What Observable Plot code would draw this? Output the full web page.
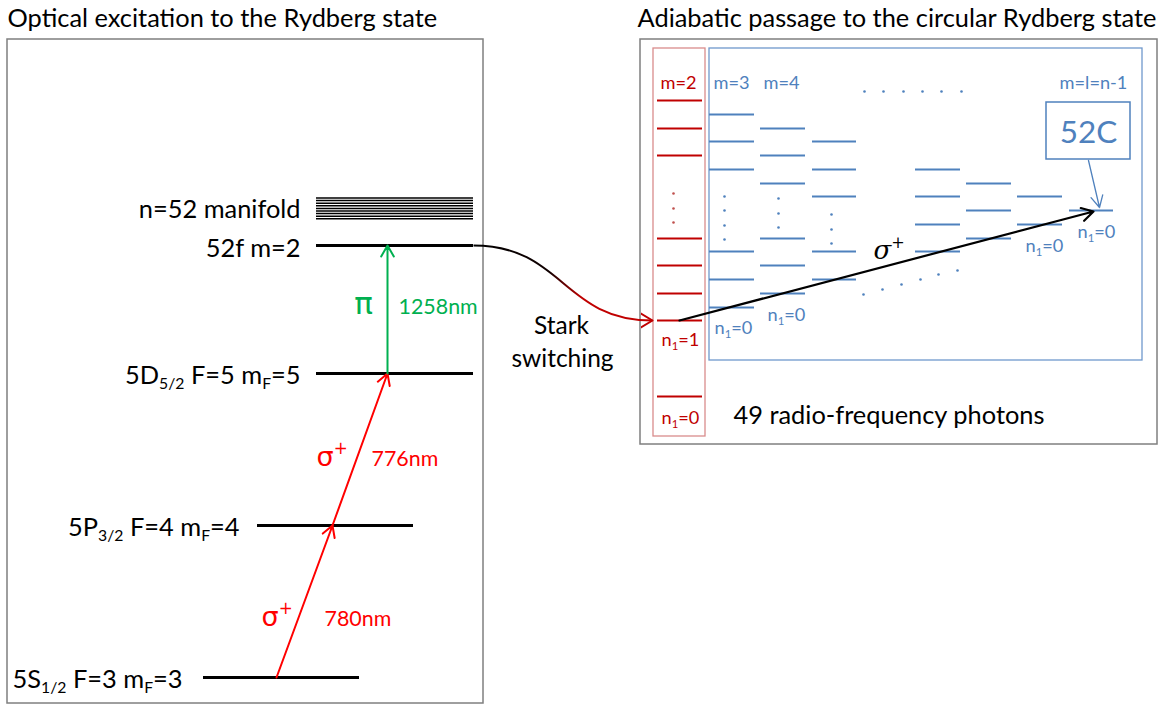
<!DOCTYPE html>
<html><head><meta charset="utf-8">
<script src="https://cdn.jsdelivr.net/npm/d3@7"></script>
<script src="https://cdn.jsdelivr.net/npm/@observablehq/plot@0.6"></script>
<style>body{margin:0;background:#fff} svg{display:block}</style>
</head><body><div id="chart"></div>
<script>
// ---------- data (diagram coordinates) ----------
const panelTitles = [
  {text: "Optical excitation to the Rydberg state", x: 7, y: 26},
  {text: "Adiabatic passage to the circular Rydberg state", x: 637, y: 26}
];
const panelFrames = [
  {x1: 7, x2: 483, y1: 39, y2: 703},
  {x1: 640, x2: 1157, y1: 39, y2: 444}
];
// left panel: optical ladder
const opticalLevels = [
  {state: "5S", x1: 203, x2: 359, y: 677},
  {state: "5P", x1: 257, x2: 413, y: 525},
  {state: "5D", x1: 316, x2: 473, y: 373},
  {state: "52f", x1: 316, x2: 473, y: 245}
];
const manifoldLevels = [
  {x1: 316, x2: 473, y: 197.5}, {x1: 316, x2: 473, y: 200.1}, {x1: 316, x2: 473, y: 202.7},
  {x1: 316, x2: 473, y: 205.3}, {x1: 316, x2: 473, y: 207.9}, {x1: 316, x2: 473, y: 210.5},
  {x1: 316, x2: 473, y: 213.1}, {x1: 316, x2: 473, y: 215.7}, {x1: 316, x2: 473, y: 218.3}
];
const levelLabels = [
  {text: "5S_{1/2} F=3 m_{F}=3", x: 182, y: 687},
  {text: "5P_{3/2} F=4 m_{F}=4", x: 239, y: 535},
  {text: "5D_{5/2} F=5 m_{F}=5", x: 300, y: 383},
  {text: "52f m=2", x: 300, y: 256},
  {text: "n=52 manifold", x: 300, y: 217}
];
const laserSteps = [
  {x1: 276, y1: 677, x2: 332, y2: 525},
  {x1: 332, y1: 525, x2: 387, y2: 373}
];
const rydbergStep = [{x1: 387, y1: 373, x2: 387, y2: 245}];
const polarizationLabels = [
  {text: "σ^{+}", x: 261, y: 625},
  {text: "σ^{+}", x: 316, y: 465}
];
const wavelengthLabels = [
  {text: "780nm", x: 324, y: 625},
  {text: "776nm", x: 371, y: 465}
];
const piLabel = [{text: "π", x: 363, y: 313}];
const rydbergWavelength = [{text: "1258nm", x: 398, y: 313}];

// right panel
const innerFrameRed = [{x1: 653, x2: 705, y1: 48, y2: 436}];
const innerFrameBlue = [{x1: 709, x2: 1142, y1: 48, y2: 360}];
const starkLevels = [
  {x1: 657, x2: 702, y: 100}, {x1: 657, x2: 702, y: 128}, {x1: 657, x2: 702, y: 155},
  {x1: 657, x2: 702, y: 238}, {x1: 657, x2: 702, y: 265}, {x1: 657, x2: 702, y: 293},
  {x1: 657, x2: 702, y: 320}, {x1: 657, x2: 702, y: 396}
];
const starkDots = [{x: 673, y: 193}, {x: 673, y: 208}, {x: 673, y: 222}];
const circularLevels = [
  // m=3
  {x1: 709, x2: 754, y: 114}, {x1: 709, x2: 754, y: 141}, {x1: 709, x2: 754, y: 169},
  {x1: 709, x2: 754, y: 251}, {x1: 709, x2: 754, y: 279}, {x1: 709, x2: 754, y: 307},
  // m=4
  {x1: 760, x2: 805, y: 128}, {x1: 760, x2: 805, y: 155}, {x1: 760, x2: 805, y: 183},
  {x1: 760, x2: 805, y: 238}, {x1: 760, x2: 805, y: 265}, {x1: 760, x2: 805, y: 293},
  // m=5
  {x1: 812, x2: 856, y: 141}, {x1: 812, x2: 856, y: 169}, {x1: 812, x2: 856, y: 196},
  {x1: 812, x2: 856, y: 251}, {x1: 812, x2: 856, y: 279},
  // m=n-4
  {x1: 915, x2: 960, y: 169}, {x1: 915, x2: 960, y: 196}, {x1: 915, x2: 960, y: 224},
  {x1: 915, x2: 960, y: 251},
  // m=n-3
  {x1: 966, x2: 1011, y: 183}, {x1: 966, x2: 1011, y: 210}, {x1: 966, x2: 1011, y: 238},
  // m=n-2
  {x1: 1017, x2: 1062, y: 196}, {x1: 1017, x2: 1062, y: 224},
  // m=n-1 (circular)
  {x1: 1069, x2: 1113, y: 210}
];
const circularDots = [
  {x: 724, y: 196}, {x: 724, y: 210}, {x: 724, y: 225}, {x: 724, y: 239},
  {x: 778, y: 198}, {x: 778, y: 213}, {x: 778, y: 227},
  {x: 831, y: 214}, {x: 831, y: 229}, {x: 831, y: 243},
  {x: 864, y: 91}, {x: 883, y: 91}, {x: 903, y: 91}, {x: 922, y: 91}, {x: 941, y: 91}, {x: 961, y: 91},
  {x: 863, y: 294}, {x: 882, y: 289}, {x: 901, y: 284}, {x: 920, y: 279}, {x: 938, y: 274}, {x: 957, y: 270}
];
const redLabels = [
  {text: "m=2", x: 678, y: 88},
  {text: "n_{1}=1", x: 680, y: 345},
  {text: "n_{1}=0", x: 680, y: 423}
];
const blueLabels = [
  {text: "m=3", x: 731, y: 88},
  {text: "m=4", x: 781, y: 88},
  {text: "m=l=n-1", x: 1093, y: 88},
  {text: "n_{1}=0", x: 733, y: 333},
  {text: "n_{1}=0", x: 786, y: 320},
  {text: "n_{1}=0", x: 1044, y: 251},
  {text: "n_{1}=0", x: 1096, y: 237}
];
const circularBox = [{x1: 1046, x2: 1130, y1: 102, y2: 159}];
const circularName = [{text: "52C", x: 1088, y: 142}];
const circularPointer = [{x1: 1088, y1: 160, x2: 1099, y2: 207}];
const rfLadder = [{x1: 679, y1: 320, x2: 1093, y2: 211}];
const rfPolarization = [{text: "σ^{+}", x: 873, y: 258}];
const starkSwitch = [{x1: 473, y1: 245, x2: 652, y2: 320}];
const starkText = [{text: "Stark", x: 561, y: 333}, {text: "switching", x: 562, y: 366}];
const photonText = [{text: "49 radio-frequency photons", x: 733, y: 423}];

// ---------- styles ----------
const FONT = "Lato, Carlito, 'Open Sans', 'DejaVu Sans', sans-serif";
const RED = "#ff0000", DARKRED = "#c00000", GREEN = "#00b050", BLUE = "#4f81bd";
const LINK = "#c00001";
const BIG = 25.4, MID = 21.4, SMALL = 18.2;

const chart = Plot.plot({
  width: 1164, height: 705, margin: 0,
  x: {domain: [0, 1164], range: [0, 1164], axis: null},
  y: {domain: [0, 705], range: [0, 705], axis: null},
  style: {background: "#fff"},
  marks: [
    Plot.rect(panelFrames, {x1: "x1", x2: "x2", y1: "y1", y2: "y2", fill: "none", stroke: "#7f7f7f", strokeWidth: 1.5}),
    Plot.text(panelTitles, {x: "x", y: "y", text: "text", textAnchor: "start", lineAnchor: "bottom", fontSize: BIG, fill: "#000", fontFamily: FONT}),
    // left panel
    Plot.ruleY(manifoldLevels, {y: "y", x1: "x1", x2: "x2", stroke: "#000", strokeWidth: 1.5}),
    Plot.ruleY(opticalLevels, {y: "y", x1: "x1", x2: "x2", stroke: "#000", strokeWidth: 3}),
    Plot.text(levelLabels, {x: "x", y: "y", text: "text", textAnchor: "end", lineAnchor: "bottom", fontSize: BIG, fill: "#000", fontFamily: FONT}),
    Plot.arrow(laserSteps, {x1: "x1", y1: "y1", x2: "x2", y2: "y2", stroke: RED, strokeWidth: 2, headLength: 9.5, headAngle: 60}),
    Plot.arrow(rydbergStep, {x1: "x1", y1: "y1", x2: "x2", y2: "y2", stroke: GREEN, strokeWidth: 2, headLength: 9.5, headAngle: 60}),
    Plot.text(polarizationLabels, {x: "x", y: "y", text: "text", textAnchor: "start", lineAnchor: "bottom", fontSize: 27, fill: RED, fontFamily: "'DejaVu Sans', sans-serif"}),
    Plot.text(wavelengthLabels, {x: "x", y: "y", text: "text", textAnchor: "start", lineAnchor: "bottom", fontSize: MID, fill: RED, fontFamily: FONT}),
    Plot.text(piLabel, {x: "x", y: "y", text: "text", textAnchor: "middle", lineAnchor: "bottom", fontSize: 31, fill: GREEN, fontFamily: "'DejaVu Sans', sans-serif"}),
    Plot.text(rydbergWavelength, {x: "x", y: "y", text: "text", textAnchor: "start", lineAnchor: "bottom", fontSize: MID, fill: GREEN, fontFamily: FONT}),
    // right panel
    Plot.rect(innerFrameRed, {x1: "x1", x2: "x2", y1: "y1", y2: "y2", fill: "none", stroke: "#d98c8c", strokeWidth: 1.3}),
    Plot.rect(innerFrameBlue, {x1: "x1", x2: "x2", y1: "y1", y2: "y2", fill: "none", stroke: "#6f98cc", strokeWidth: 1.3}),
    Plot.ruleY(starkLevels, {y: "y", x1: "x1", x2: "x2", stroke: DARKRED, strokeWidth: 2}),
    Plot.dot(starkDots, {x: "x", y: "y", r: 1.3, fill: "#c0504d", stroke: "none"}),
    Plot.ruleY(circularLevels, {y: "y", x1: "x1", x2: "x2", stroke: BLUE, strokeWidth: 2}),
    Plot.dot(circularDots, {x: "x", y: "y", r: 1.3, fill: BLUE, stroke: "none"}),
    Plot.text(redLabels, {x: "x", y: "y", text: "text", textAnchor: "middle", lineAnchor: "bottom", fontSize: SMALL, fill: DARKRED, fontFamily: FONT}),
    Plot.text(blueLabels, {x: "x", y: "y", text: "text", textAnchor: "middle", lineAnchor: "bottom", fontSize: SMALL, fill: BLUE, fontFamily: FONT}),
    Plot.rect(circularBox, {x1: "x1", x2: "x2", y1: "y1", y2: "y2", fill: "#fff", stroke: BLUE, strokeWidth: 1.5}),
    Plot.text(circularName, {x: "x", y: "y", text: "text", textAnchor: "middle", lineAnchor: "bottom", fontSize: 31.5, fill: BLUE, fontFamily: FONT}),
    Plot.arrow(circularPointer, {x1: "x1", y1: "y1", x2: "x2", y2: "y2", stroke: BLUE, strokeWidth: 1.3, headLength: 15, headAngle: 55}),
    Plot.arrow(rfLadder, {x1: "x1", y1: "y1", x2: "x2", y2: "y2", stroke: "#000", strokeWidth: 2.2, headLength: 9, headAngle: 60}),
    Plot.text(rfPolarization, {x: "x", y: "y", text: "text", textAnchor: "start", lineAnchor: "bottom", fontSize: 26, fontStyle: "italic", fill: "#000", fontFamily: "'DejaVu Serif', serif"}),
    Plot.link(starkSwitch, {x1: "x1", y1: "y1", x2: "x2", y2: "y2", curve: "bump-x", stroke: LINK, strokeWidth: 2, markerEnd: "arrow"}),
    Plot.text(starkText, {x: "x", y: "y", text: "text", textAnchor: "middle", lineAnchor: "bottom", fontSize: 24.5, fill: "#000", fontFamily: FONT}),
    Plot.text(photonText, {x: "x", y: "y", text: "text", textAnchor: "start", lineAnchor: "bottom", fontSize: BIG, fill: "#000", fontFamily: FONT})
  ]
});
document.getElementById("chart").appendChild(chart);

// ---------- sub/superscripts as tspans ----------
const NS = "http://www.w3.org/2000/svg";
chart.querySelectorAll("text").forEach(t => {
  const s = t.textContent;
  if (!/[_^]\{/.test(s)) return;
  const fs = parseFloat(getComputedStyle(t).fontSize);
  while (t.firstChild) t.removeChild(t.firstChild);
  const re = /([_^])\{([^}]*)\}/g;
  let last = 0, cur = 0, m;
  const add = (str, target, small) => {
    const ts = document.createElementNS(NS, "tspan");
    ts.textContent = str;
    const dy = target - cur;
    if (dy) ts.setAttribute("dy", dy.toFixed(2));
    if (small) { ts.setAttribute("font-size", (fs * 0.62).toFixed(2)); ts.setAttribute("font-style", "normal"); }
    cur = target;
    t.appendChild(ts);
  };
  while ((m = re.exec(s))) {
    if (m.index > last) add(s.slice(last, m.index), 0, false);
    add(m[2], m[1] === "_" ? 0.22 * fs : -0.42 * fs, true);
    last = re.lastIndex;
  }
  if (last < s.length) add(s.slice(last), 0, false);
});

// ---------- Stark switching curve: black-to-red gradient and larger head ----------
const defs = document.createElementNS(NS, "defs");
defs.innerHTML = '<linearGradient id="starkGrad" gradientUnits="userSpaceOnUse" x1="473" y1="0" x2="653" y2="0">' +
  '<stop offset="0" stop-color="#000"/><stop offset="0.42" stop-color="#100000"/>' +
  '<stop offset="0.6" stop-color="#c00000"/><stop offset="1" stop-color="#c00000"/></linearGradient>';
chart.insertBefore(defs, chart.firstChild);
chart.querySelectorAll('[stroke="' + LINK + '"]').forEach(g => {
  if (g.tagName.toLowerCase() !== "marker") g.setAttribute("stroke", "url(#starkGrad)");
});
chart.querySelectorAll("marker").forEach(mk => {
  mk.setAttribute("markerWidth", 12);
  mk.setAttribute("markerHeight", 12);
  mk.setAttribute("stroke", DARKRED);
  mk.setAttribute("stroke-width", 0.85);
  const p = mk.querySelector("path");
  if (p) p.setAttribute("d", "M-5,-3L0,0L-5,3");
});
</script>
</body></html>
